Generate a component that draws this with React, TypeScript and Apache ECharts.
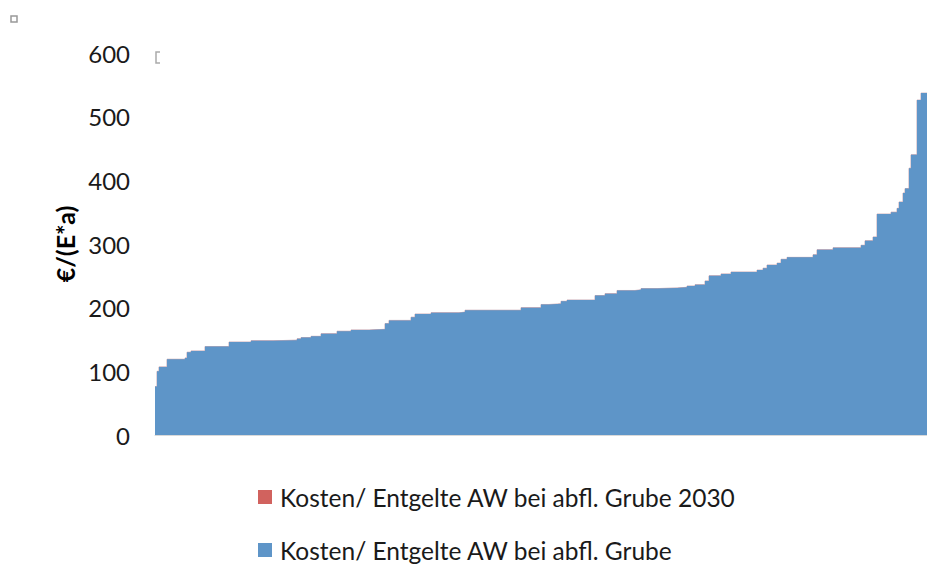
import React, { useEffect, useRef } from "react";
import * as echarts from "echarts";

// Rank (sorted position) where each cost level starts, and the cost level (€/(E*a))
const rankStart = [0, 1, 2, 6, 15, 16, 18, 25, 37, 48, 59, 71, 73, 78, 83, 91, 98, 107, 115, 117, 128, 130, 138, 152, 155, 183, 193, 197, 203, 206, 220, 225, 231, 240, 243, 251, 261, 266, 270, 275, 277, 283, 288, 301, 304, 306, 311, 313, 316, 329, 331, 339, 353, 355, 359, 361, 368, 371, 372, 374, 375, 377, 378, 381, 383, 386];
const costGrube = [76, 100, 107, 119, 121, 130, 132, 139, 146, 148, 149, 151, 153, 155, 159, 163, 165, 166, 175, 180, 185, 190, 192, 193, 196, 200, 205, 206, 210, 212, 219, 222, 227, 228, 230, 231, 232, 234, 236, 242, 250, 253, 256, 259, 262, 267, 270, 276, 279, 283, 291, 294, 298, 305, 311, 347, 350, 356, 366, 380, 387, 419, 440, 526, 537, 537];
const cost2030 = costGrube.slice();
const seriesNames = ["Kosten/ Entgelte AW bei abfl. Grube 2030", "Kosten/ Entgelte AW bei abfl. Grube"];
const yTicks = [0, 100, 200, 300, 400, 500, 600];

export default function App() {
  const ref = useRef<HTMLDivElement>(null);
  useEffect(() => {
    if (!ref.current) return;
    const chart = echarts.init(ref.current, null, { renderer: "svg" });
    const font = "Lato, 'Open Sans', sans-serif";
    const legendBase = {
      left: 253,
      itemWidth: 14,
      itemHeight: 14,
      icon: "rect",
      textStyle: { fontFamily: font, fontSize: 24.5, lineHeight: 26, color: "#1a1a1a", padding: [0, 0, 0, 3] },
    };
    chart.setOption({
      animation: false,
      grid: { left: 155, right: 0, top: 53, bottom: 129 },
      xAxis: {
        type: "value",
        min: 0,
        max: rankStart[rankStart.length - 1],
        axisLabel: { show: false },
        axisTick: { show: false },
        splitLine: { show: false },
        axisLine: { show: true, lineStyle: { color: "#d9d9d9", width: 1 } },
      },
      yAxis: {
        type: "value",
        min: yTicks[0],
        max: yTicks[yTicks.length - 1],
        interval: 100,
        name: "€/(E*a)",
        nameLocation: "middle",
        nameGap: 72,
        nameTextStyle: { fontFamily: font, fontSize: 25, fontWeight: "bold", color: "#000" },
        axisLine: { show: false },
        axisTick: { show: false },
        splitLine: { show: false },
        axisLabel: { fontFamily: font, fontSize: 24, color: "#1a1a1a", margin: 25 },
      },
      legend: [
        { ...legendBase, top: 479, data: [seriesNames[0]] },
        { ...legendBase, top: 532, data: [seriesNames[1]] },
      ],
      series: [
        {
          name: seriesNames[0],
          type: "line",
          step: "end",
          symbol: "none",
          data: rankStart.map((r, i) => [r, cost2030[i]]),
          itemStyle: { color: "#d1625e" },
          lineStyle: { width: 1, color: "#c9aab4" },
          areaStyle: { color: "#d1625e", opacity: 1 },
          z: 1,
        },
        {
          name: seriesNames[1],
          type: "line",
          step: "end",
          symbol: "none",
          data: rankStart.map((r, i) => [r, costGrube[i]]),
          itemStyle: { color: "#5e95c8" },
          lineStyle: { width: 0 },
          areaStyle: { color: "#5e95c8", opacity: 1 },
          z: 2,
        },
      ],
      graphic: [
        { type: "rect", shape: { x: 11, y: 16, width: 6, height: 6 }, style: { fill: "none", stroke: "#999", lineWidth: 1.5 } },
        { type: "polyline", shape: { points: [[160, 52], [156, 52], [156, 63], [160, 63]] }, style: { fill: "none", stroke: "#aaa", lineWidth: 1.5 } },
      ],
    });
    return () => chart.dispose();
  }, []);
  return <div ref={ref} style={{ position: "fixed", left: 0, top: 0, width: 927, height: 564, background: "#fff" }} />;
}
